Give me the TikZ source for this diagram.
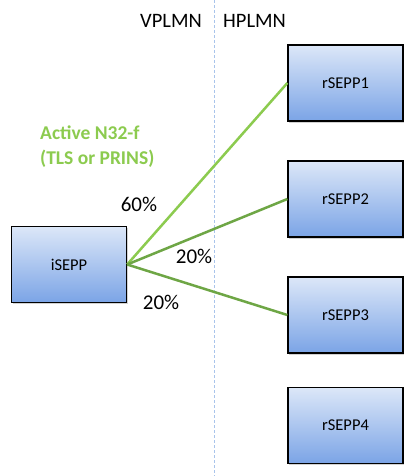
\documentclass[tikz,border=0pt]{standalone}
\usepackage{fontspec}
\setmainfont{Carlito}
\usetikzlibrary{shadows}
\definecolor{boxtop}{HTML}{DCE7F8}
\definecolor{boxbot}{HTML}{7BA4E6}
\definecolor{lightgreen}{HTML}{8CCB4F}
\definecolor{darkgreen}{HTML}{6EA645}
\definecolor{divider}{HTML}{A9C4EB}
\begin{document}
\begin{tikzpicture}[x=1pt,y=-1pt,
  sepp/.style={draw=black, line width=1.3pt, minimum width=115pt, minimum height=76pt,
    top color=boxtop, bottom color=boxbot, font=\fontsize{16.5}{19}\selectfont,
    drop shadow={shadow xshift=1pt, shadow yshift=-1.5pt, opacity=0.35}},
  lbl/.style={font=\fontsize{20.5}{24}\selectfont, inner sep=0pt},
  pct/.style={font=\fontsize{21}{24}\selectfont, inner sep=0pt},
  link/.style={line width=2.5pt}]
\useasboundingbox (0,0) rectangle (404,476);
\fill[white] (0,0) rectangle (404,476);
\coordinate (dtop) at (214,0);
\coordinate (dbot) at (214,476);
\draw[divider, dashed, line width=0.8pt, dash pattern=on 3pt off 2pt] (dtop) -- (dbot);
\node[lbl, anchor=east] (vp) at (202,21) {VPLMN};
\node[lbl, anchor=west] (hp) at (223,21) {HPLMN};
\node[sepp] (r1) at (345.5,83) {rSEPP1};
\node[sepp] (r2) at (345.5,199) {rSEPP2};
\node[sepp] (r3) at (345.5,315) {rSEPP3};
\node[sepp] (r4) at (345.5,425.5) {rSEPP4};
\node[sepp] (i) at (69,264.5) {iSEPP};
\draw[link, lightgreen] (i.east) -- (r1.west);
\draw[link, darkgreen] (i.east) -- (r2.west);
\draw[link, darkgreen] (i.east) -- (r3.west);
\node[anchor=west, align=left, text=lightgreen, inner sep=0pt,
  font=\fontsize{19.5}{25}\selectfont\bfseries] (act) at (40,147) {Active N32-f\\(TLS or PRINS)};
\node[pct] (p1) at (139,204) {60\%};
\node[pct] (p2) at (194,256) {20\%};
\node[pct] (p3) at (161,302) {20\%};
\end{tikzpicture}
\end{document}
